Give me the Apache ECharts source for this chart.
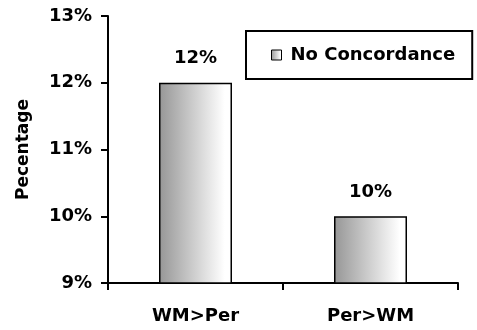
<!DOCTYPE html>
<html>
<head>
<meta charset="utf-8">
<script src="https://cdn.jsdelivr.net/npm/echarts@6/dist/echarts.min.js"></script>
<style>html,body{margin:0;padding:0;background:#fff}#c{width:477px;height:330px}</style>
</head>
<body>
<div id="c"></div>
<script>
var categories = ['WM>Per', 'Per>WM'];
var seriesName = 'No Concordance';
var values = [12, 10];
var yMin = 9, yMax = 13, yStep = 1;
var yAxisTitle = 'Pecentage';

var font = 'DejaVu Sans';
var grad = new echarts.graphic.LinearGradient(0, 0, 1, 0, [
  {offset: 0, color: '#969696'},
  {offset: 0.9, color: '#ffffff'},
  {offset: 1, color: '#ffffff'}
]);
var chart = echarts.init(document.getElementById('c'), null, {renderer: 'canvas'});
chart.setOption({
  backgroundColor: '#fff',
  animation: false,
  grid: {left: 108, right: 19, top: 16, bottom: 47},
  legend: {
    left: 246, top: 31,
    padding: [15, 17, 15, 25],
    borderColor: '#000', borderWidth: 2,
    itemWidth: 10, itemHeight: 10,
    icon: 'rect',
    textStyle: {fontFamily: font, fontWeight: 'bold', fontSize: 18, color: '#000', padding: [0, 0, 0, 4]},
    data: [{name: seriesName, itemStyle: {borderColor: '#000', borderWidth: 1}}]
  },
  xAxis: {
    type: 'category', data: categories,
    axisLine: {lineStyle: {color: '#000', width: 2}},
    axisTick: {show: true, length: 7, lineStyle: {color: '#000', width: 2}},
    axisLabel: {fontFamily: font, fontWeight: 'bold', fontSize: 18, color: '#000', margin: 24}
  },
  yAxis: {
    type: 'value', min: yMin, max: yMax, interval: yStep,
    name: yAxisTitle, nameLocation: 'middle', nameGap: 76,
    nameTextStyle: {fontFamily: font, fontWeight: 'bold', fontSize: 17, color: '#000'},
    splitLine: {show: false},
    axisLine: {show: true, lineStyle: {color: '#000', width: 2}},
    axisTick: {show: true, length: 7, lineStyle: {color: '#000', width: 2}},
    axisLabel: {formatter: '{value}%', fontFamily: font, fontWeight: 'bold', fontSize: 18, color: '#000', margin: 16}
  },
  series: [{
    name: seriesName, type: 'bar', data: values, barWidth: 73,
    itemStyle: {color: grad, borderColor: '#000', borderWidth: 1.5},
    label: {show: true, position: 'top', distance: 15, formatter: '{c}%',
      fontFamily: font, fontWeight: 'bold', fontSize: 18, color: '#000'}
  }]
});
</script>
</body>
</html>
